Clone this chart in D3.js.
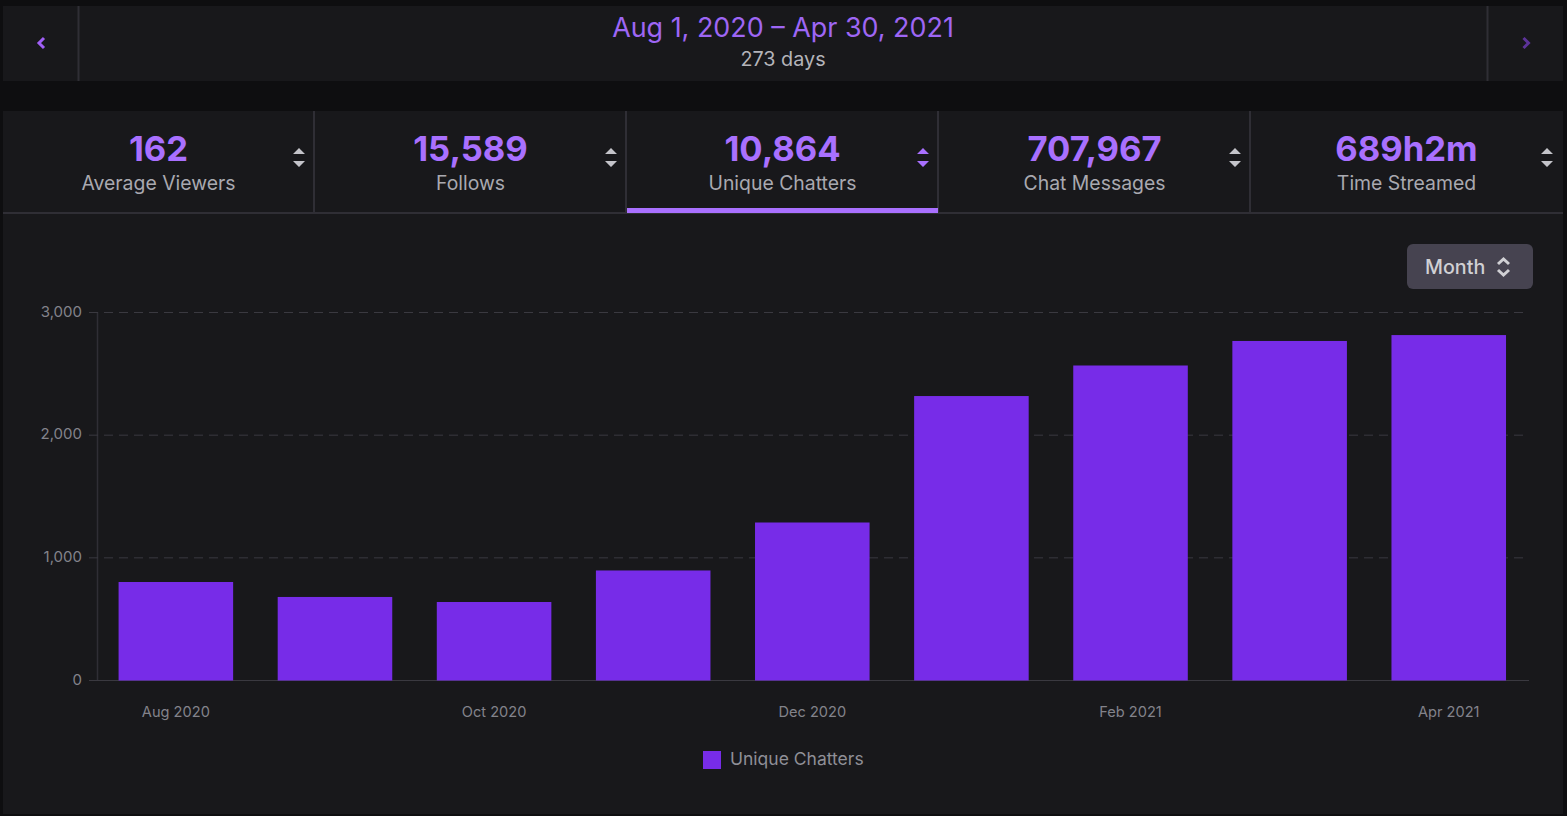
<!DOCTYPE html>
<html>
<head>
<meta charset="utf-8">
<script src="https://cdn.jsdelivr.net/npm/d3@7"></script>
<style>
  html, body { margin: 0; padding: 0; background: #0e0e10; overflow: hidden; }
  svg { display: block; font-family: Inter, "Noto Sans", sans-serif; }
</style>
</head>
<body>
<svg id="chart" width="1567" height="816"></svg>
<script>
// chart data
var months = ["Aug 2020", "Sep 2020", "Oct 2020", "Nov 2020", "Dec 2020", "Jan 2021", "Feb 2021", "Mar 2021", "Apr 2021"];
var chatters = [803, 681, 640, 897, 1288, 2319, 2568, 2768, 2816];
var yTicks = [0, 1000, 2000, 3000];
var xLabels = ["Aug 2020", "Oct 2020", "Dec 2020", "Feb 2021", "Apr 2021"];

// stat tabs
var statValues = ["162", "15,589", "10,864", "707,967", "689h2m"];
var statNames = ["Average Viewers", "Follows", "Unique Chatters", "Chat Messages", "Time Streamed"];
var activeTab = 2;

var svg = d3.select("#chart");
var purple = "#a970ff", barPurple = "#772ce8", panel = "#18181b", rule = "#2f2e35";

// header panel
svg.append("rect").attr("x", 3).attr("y", 6).attr("width", 1560).attr("height", 75).attr("fill", panel);
[78.5, 1487.5].forEach(function(x) {
  svg.append("line").attr("x1", x).attr("x2", x).attr("y1", 6).attr("y2", 81).attr("stroke", rule).attr("stroke-width", 2);
});
svg.append("path").attr("d", "M44 38 L39 43 L44 48").attr("fill", "none").attr("stroke", "#a05ff5").attr("stroke-width", 3);
svg.append("path").attr("d", "M1523.5 38 L1528.5 43 L1523.5 48").attr("fill", "none").attr("stroke", "#5c3399").attr("stroke-width", 3);
svg.append("text").attr("x", 783).attr("y", 37).attr("text-anchor", "middle")
  .attr("font-size", 26.9).attr("fill", "#9e66f4").text("Aug 1, 2020 – Apr 30, 2021");
svg.append("text").attr("x", 783).attr("y", 66).attr("text-anchor", "middle")
  .attr("font-size", 19.8).attr("fill", "#b4b4ba").text("273 days");

// main panel
svg.append("rect").attr("x", 3).attr("y", 111).attr("width", 1560).attr("height", 703).attr("fill", panel);
svg.append("line").attr("x1", 3).attr("x2", 1563).attr("y1", 213).attr("y2", 213).attr("stroke", rule).attr("stroke-width", 2);

// tabs, one fifth of the panel each
var tabScale = d3.scaleBand().domain(d3.range(statValues.length)).range([3, 1563]);
var tabs = svg.selectAll("g.tab").data(statValues).enter().append("g").attr("class", "tab")
  .attr("transform", function(d, i) { return "translate(" + tabScale(i) + ",111)"; });

tabs.append("text").attr("x", 155.5).attr("y", 50).attr("text-anchor", "middle")
  .attr("font-size", 34.6).attr("font-weight", 700).attr("fill", purple)
  .text(function(d) { return d; });
tabs.append("text").attr("x", 155.5).attr("y", 79).attr("text-anchor", "middle")
  .attr("font-size", 19.4).attr("fill", "#a9a9b0")
  .text(function(d, i) { return statNames[i]; });
// sort arrows
tabs.append("path").attr("d", "M290 43 L296 37 L302 43 Z M290 50 L296 56 L302 50 Z")
  .attr("fill", function(d, i) { return i === activeTab ? purple : "#c4c4ca"; });
tabs.filter(function(d, i) { return i < statValues.length - 1; }).append("line")
  .attr("x1", 311).attr("x2", 311).attr("y1", 0).attr("y2", 102).attr("stroke", rule).attr("stroke-width", 2);
svg.append("rect").attr("x", 627).attr("y", 208).attr("width", 311).attr("height", 5).attr("fill", purple);

// Month dropdown
svg.append("rect").attr("x", 1407).attr("y", 244).attr("width", 126).attr("height", 45).attr("rx", 6).attr("fill", "#464350");
svg.append("text").attr("x", 1425).attr("y", 274).attr("font-size", 19.7).attr("font-weight", 500).attr("fill", "#d0d0d4").text("Month");
svg.append("path").attr("d", "M1498 264 L1503.5 259 L1509 264 M1498 270 L1503.5 275 L1509 270")
  .attr("fill", "none").attr("stroke", "#d0d0d4").attr("stroke-width", 3);

// scales
var x = d3.scaleBand().domain(months).range([96.3, 1528.3]).paddingInner(0.28).paddingOuter(0.14);
var y = d3.scaleLinear().domain([0, 3000]).range([680.5, 312.5]);

// y axis with dashed grid
var yAxis = d3.axisLeft(y).tickValues(yTicks).tickFormat(d3.format(",")).tickSize(0).tickPadding(15);
var yG = svg.append("g").attr("transform", "translate(97,-1)").call(yAxis);
yG.select(".domain").attr("stroke", rule).attr("stroke-width", 1.5);
yG.selectAll("text").attr("font-size", 15).attr("font-family", "Inter").attr("fill", "#83838b");

var grid = svg.append("g");
grid.selectAll("line").data(yTicks).enter().append("line")
  .attr("x1", 89).attr("x2", 1529)
  .attr("y1", function(d) { return y(d); }).attr("y2", function(d) { return y(d); })
  .attr("stroke", "#3a3940")
  .attr("stroke-dasharray", function(d) { return d === 0 ? null : "9 6"; });

// bars
svg.selectAll("rect.bar").data(chatters).enter().append("rect").attr("class", "bar")
  .attr("x", function(d, i) { return x(months[i]); })
  .attr("width", x.bandwidth())
  .attr("y", function(d) { return y(d); })
  .attr("height", function(d) { return y(0) - y(d); })
  .attr("fill", barPurple);

// x axis
var xAxis = d3.axisBottom(x).tickValues(xLabels).tickSize(0).tickPadding(26);
var xG = svg.append("g").attr("transform", "translate(0,680.5)").call(xAxis);
xG.select(".domain").remove();
xG.selectAll("text").attr("font-size", 14.6).attr("font-family", "Inter").attr("fill", "#83838b");

// legend
svg.append("rect").attr("x", 703).attr("y", 751).attr("width", 18).attr("height", 18).attr("fill", barPurple);
svg.append("text").attr("x", 730).attr("y", 765).attr("font-size", 17.5).attr("fill", "#8f8f97").text("Unique Chatters");
</script>
</body>
</html>
